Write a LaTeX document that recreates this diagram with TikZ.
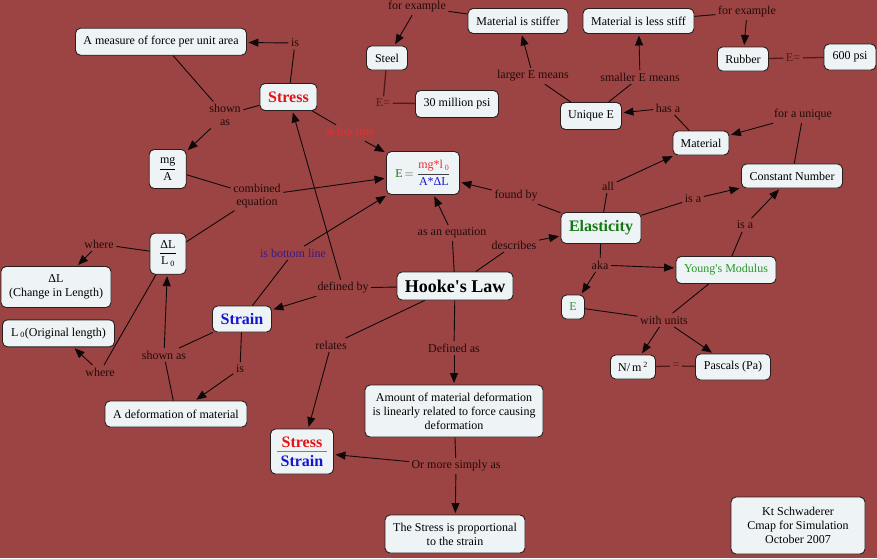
\documentclass[tikz,border=0pt]{standalone}
\usepackage{fontspec}
\setmainfont{Liberation Serif}[Ligatures=TeXOff]
\usetikzlibrary{arrows.meta}
\definecolor{bg}{RGB}{156,68,68}
\definecolor{nodefill}{RGB}{238,244,246}
\definecolor{boxline}{RGB}{40,30,30}
\definecolor{edgec}{RGB}{15,8,8}
\definecolor{lblc}{RGB}{35,10,10}
\definecolor{eqc}{RGB}{85,25,25}
\definecolor{cred}{RGB}{225,20,20}
\definecolor{cblue}{RGB}{20,20,210}
\definecolor{cgreen}{RGB}{20,120,20}
\definecolor{lgreen}{RGB}{40,150,40}
\definecolor{tred}{RGB}{235,45,45}
\definecolor{tblue}{RGB}{55,25,140}
\begin{document}
\begin{tikzpicture}[x=1pt,y=-1pt,
  every node/.style={font=\fontsize{12}{14}\selectfont},
  box/.style={draw=boxline, fill=nodefill, rounded corners=5pt, line width=0.9pt, inner sep=1pt, align=center},
  sz/.style 2 args={minimum width=#1pt, minimum height=#2pt},
  lbl/.style={text=lblc, inner sep=2.5pt, align=center, font=\fontsize{12}{13}\selectfont},
  con/.style={draw=edgec, line width=0.9pt},
  arr/.style={con, -{Triangle[length=10pt,width=8pt]}, shorten >=1.5pt},
  eqcon/.style={draw=eqc, line width=1.3pt},
  bigb/.style={font=\bfseries\fontsize{16}{18}\selectfont},
]
\fill[bg] (0,0) rectangle (877,558);
\useasboundingbox (0,0) rectangle (877,558);

% concept boxes
\node[box,sz={171}{27}] (measure) at (161,41.7) {A measure of force per unit area};
\node[box,sz={57}{27},bigb,text=cred] (stress) at (288.5,97) {Stress};
\node[box,sz={37}{39}] (mga) at (167.7,169) {$\displaystyle\frac{\hbox{mg}}{\hbox{A}}$};
\node[box,sz={36}{41}] (dll) at (168,253.7) {$\displaystyle\frac{\hbox{ΔL}}{\hbox{L\,\textsubscript{0}}}$};
\node[box,sz={110}{41}] (dl) at (56,287) {ΔL\\(Change in Length)};
\node[box,sz={112}{27}] (lzero) at (58.5,333.3) {L\,\textsubscript{0}(Original length)};
\node[box,sz={59}{26},bigb,text=cblue] (strain) at (242,319) {Strain};
\node[box,sz={142}{26}] (deform) at (176,414) {A deformation of material};
\node[box,sz={73}{43}] (eeq) at (423,173) {{\color{darkgray}\textcolor{cgreen}{E}\,$=\displaystyle\frac{\hbox{\color{tred}mg*l\,\textsubscript{0}}}{\hbox{\color{cblue}A*ΔL}}$}};
\node[box,sz={41}{24}] (steel) at (387,58) {Steel};
\node[box,sz={83}{27}] (psi30) at (457,104) {30 million psi};
\node[box,sz={100}{25}] (stiffer) at (518,21) {Material is stiffer};
\node[box,sz={111}{25}] (less) at (638.5,21) {Material is less stiff};
\node[box,sz={51}{24}] (rubber) at (743,59) {Rubber};
\node[box,sz={52}{26}] (psi600) at (850,57) {600 psi};
\node[box,sz={61}{27}] (uniqueE) at (591,116) {Unique E};
\node[box,sz={56}{24}] (material) at (701,143) {Material};
\node[box,sz={101}{24}] (const) at (792,176) {Constant Number};
\node[box,sz={80}{31},bigb,text=cgreen] (elast) at (601,228) {Elasticity};
\node[box,sz={100}{27},text=lgreen] (young) at (726,270) {Young's Modulus};
\node[box,sz={23}{24},text=lgreen] (esmall) at (573,307) {E};
\node[box,sz={45}{24}] (nm2) at (633,367) {N/\,m\,\textsuperscript{2}};
\node[box,sz={75}{26}] (pascals) at (733,367) {Pascals (Pa)};
\node[box,sz={116}{28},font=\bfseries\fontsize{18}{20}\selectfont] (hooke) at (455,286) {Hooke's Law};
\node[box,sz={63}{45},bigb] (ss) at (302,451.5) {\vbox{\offinterlineskip
  \hbox to 50pt{\hss\textcolor{cred}{Stress}\hss}\kern3.5pt
  \hbox{\textcolor{gray}{\rule{50pt}{1.3pt}}}\kern2.5pt
  \hbox to 50pt{\hss\textcolor{cblue}{Strain}\hss}}};
\node[box,sz={178}{52}] (amount) at (454,411) {Amount of material deformation\\is linearly related to force causing\\deformation};
\node[box,sz={140}{38}] (prop) at (455,534) {The Stress is proportional\\to the strain};
\node[box,sz={134}{57}] (kt) at (798,525.5) {Kt Schwaderer\\Cmap for Simulation\\October 2007};

% linking phrases
\node[lbl] (l_is1) at (295,43) {is};
\node[lbl] (l_shown1) at (225,115) {shown\\as};
\node[lbl] (l_comb) at (257,196) {combined\\equation};
\node[lbl,text=tred] (l_top) at (350,133) {is top line};
\node[lbl,text=tblue] (l_bot) at (293,253) {is bottom line};
\node[lbl] (l_where1) at (99,244) {where};
\node[lbl] (l_where2) at (100,372) {where};
\node[lbl] (l_shown2) at (164,355) {shown as};
\node[lbl] (l_is2) at (240,369) {is};
\node[lbl] (l_dby) at (343,288) {defined by};
\node[lbl] (l_aseq) at (452,233) {as an equation};
\node[lbl] (l_desc) at (514,245) {describes};
\node[lbl] (l_found) at (516,196) {found by};
\node[lbl] (l_rel) at (331,345) {relates};
\node[lbl] (l_defas) at (454,348) {Defined as};
\node[lbl] (l_simply) at (456,466) {Or more simply as};
\node[lbl] (l_ex1) at (417,7) {for example};
\node[lbl,text=eqc] (l_eq1) at (383,103) {E=};
\node[lbl] (l_larger) at (533,76) {larger E means};
\node[lbl] (l_smaller) at (640,77) {smaller E means};
\node[lbl] (l_ex2) at (747,12) {for example};
\node[lbl,text=eqc] (l_eq2) at (793,58) {E=};
\node[lbl] (l_hasa) at (668,108) {has a};
\node[lbl] (l_unique) at (803,115) {for a unique};
\node[lbl] (l_all) at (608,186) {all};
\node[lbl] (l_isa1) at (693,199) {is a};
\node[lbl] (l_isa2) at (745,225) {is a};
\node[lbl] (l_aka) at (600,265) {aka};
\node[lbl] (l_units) at (664,320) {with units};
\node[lbl,text=eqc] (l_eq3) at (676,366) {=};

% connectors
\draw[con] (stress) -- (l_is1); \draw[arr] (l_is1) -- (measure);
\draw[con] (measure) -- (l_shown1); \draw[con] (stress) -- (l_shown1); \draw[arr] (l_shown1) -- (mga);
\draw[con] (mga) -- (l_comb); \draw[con] (dll) -- (l_comb); \draw[arr] (l_comb) -- (eeq);
\draw[con] (stress) -- (l_top); \draw[arr] (l_top) -- (eeq);
\draw[con] (strain) -- (l_bot); \draw[arr] (l_bot) -- (eeq);
\draw[con] (dll) -- (l_where1); \draw[arr] (l_where1) -- (dl);
\draw[con] (dll) -- (l_where2); \draw[arr] (l_where2) -- (lzero);
\draw[con] (strain) -- (l_shown2); \draw[con] (deform) -- (l_shown2); \draw[arr] (l_shown2) -- (dll);
\draw[con] (strain) -- (l_is2); \draw[arr] (l_is2) -- (deform);
\draw[con] (hooke) -- (l_dby); \draw[arr] (l_dby) -- (strain); \draw[arr] (l_dby) -- (stress);
\draw[con] (hooke) -- (l_aseq); \draw[arr] (l_aseq) -- (eeq);
\draw[con] (hooke) -- (l_desc); \draw[arr] (l_desc) -- (elast);
\draw[con] (elast) -- (l_found); \draw[arr] (l_found) -- (eeq);
\draw[con] (hooke) -- (l_rel); \draw[arr] (l_rel) -- (ss);
\draw[con] (hooke) -- (l_defas); \draw[arr] (l_defas) -- (amount);
\draw[con] (amount) -- (l_simply); \draw[arr] (l_simply) -- (ss); \draw[arr] (l_simply) -- (prop);
\draw[con] (stiffer) -- (l_ex1); \draw[arr] (l_ex1) -- (steel);
\draw[eqcon] (steel) -- (l_eq1) -- (psi30);
\draw[con] (uniqueE) -- (l_larger); \draw[arr] (l_larger) -- (stiffer);
\draw[con] (uniqueE) -- (l_smaller); \draw[arr] (l_smaller) -- (less);
\draw[con] (less) -- (l_ex2); \draw[arr] (l_ex2) -- (rubber);
\draw[eqcon] (rubber) -- (l_eq2) -- (psi600);
\draw[con] (material) -- (l_hasa); \draw[arr] (l_hasa) -- (uniqueE);
\draw[con] (const) -- (l_unique); \draw[arr] (l_unique) -- (material);
\draw[con] (elast) -- (l_all); \draw[arr] (l_all) -- (material);
\draw[con] (elast) -- (l_isa1); \draw[arr] (l_isa1) -- (const);
\draw[con] (young) -- (l_isa2); \draw[arr] (l_isa2) -- (const);
\draw[con] (elast) -- (l_aka); \draw[arr] (l_aka) -- (young); \draw[arr] (l_aka) -- (esmall);
\draw[con] (esmall) -- (l_units); \draw[con] (young) -- (l_units);
\draw[arr] (l_units) -- (nm2); \draw[arr] (l_units) -- (pascals);
\draw[eqcon] (nm2) -- (l_eq3) -- (pascals);
\end{tikzpicture}
\end{document}
